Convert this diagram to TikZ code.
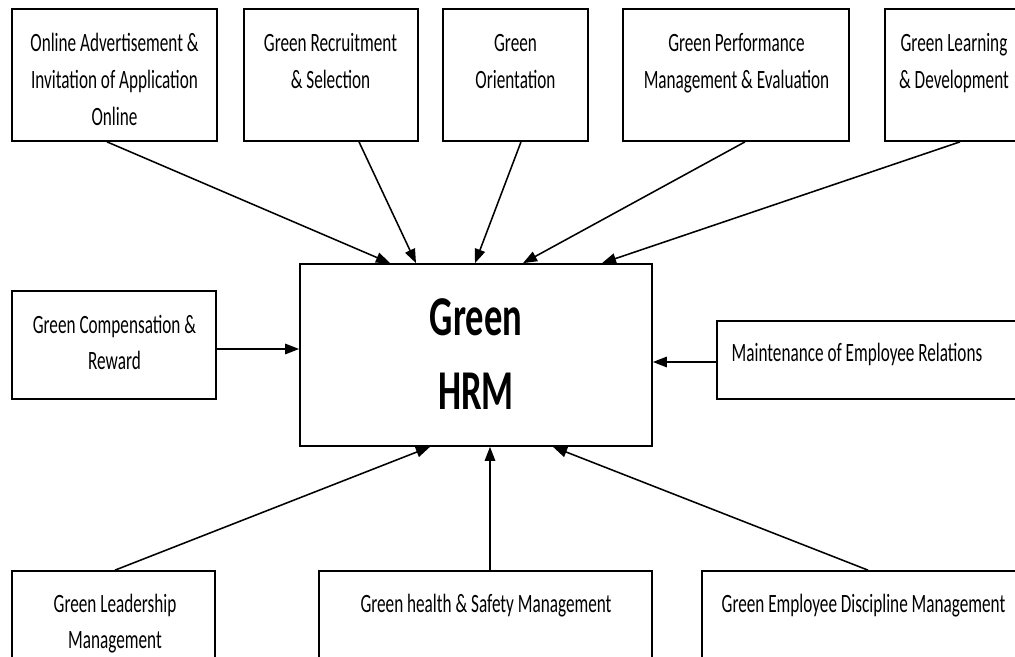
\documentclass[tikz,border=0pt]{standalone}
\usepackage{fontspec}
\setmainfont{Carlito}
\usepackage{graphicx}
\usetikzlibrary{arrows.meta}

\newcommand{\schmal}[1]{\scalebox{0.65}[1]{\begin{tabular}[t]{@{}c@{}}#1\end{tabular}}}

\begin{document}
\begin{tikzpicture}[x=0.025cm, y=-0.025cm,
  box/.style={draw, line width=1.2pt, inner sep=0pt},
  txt/.style={anchor=base, inner sep=0pt, font=\fontsize{18.8}{26.3}\selectfont},
  gross/.style={anchor=base, inner sep=0pt, font=\fontsize{40}{53}\selectfont\bfseries},
  pfeil/.style={-{Triangle[length=10pt,width=7.5pt]}, line width=1.1pt}]
  \clip (0,0) rectangle (1015,657);

  % Kaesten oben
  \node[box, minimum width=5.125cm, minimum height=3.3cm] (oad) at (114.5,75) {};
  \node[box, minimum width=4.35cm, minimum height=3.3cm] (rec) at (331,75) {};
  \node[box, minimum width=3.625cm, minimum height=3.3cm] (ori) at (515.5,75) {};
  \node[box, minimum width=5.65cm, minimum height=3.3cm] (perf) at (736,75) {};
  \node[box, minimum width=3.45cm, minimum height=3.3cm] (learn) at (954,75) {};

  % Mitte
  \node[box, minimum width=8.8cm, minimum height=4.55cm] (hrm) at (476,355) {};
  \node[box, minimum width=5.1cm, minimum height=2.7cm] (comp) at (114,345) {};
  \node[box, minimum width=7.825cm, minimum height=1.95cm] (maint) at (873.5,360) {};

  % Kaesten unten
  \node[box, minimum width=5.075cm, minimum height=3cm] (lead) at (113.5,631) {};
  \node[box, minimum width=8.325cm, minimum height=3cm] (health) at (485.5,631) {};
  \node[box, minimum width=8.075cm, minimum height=3cm] (disc) at (863.5,631) {};

  % Beschriftung
  \node[txt] at (114.5,52) {\schmal{Online Advertisement \&\\Invitation of Application\\Online}};
  \node[txt] at (330.5,52) {\schmal{Green Recruitment\\\& Selection}};
  \node[txt] at (515.5,52) {\schmal{Green\\Orientation}};
  \node[txt] at (736.5,52) {\schmal{Green Performance\\Management \& Evaluation}};
  \node[txt] at (954,52) {\schmal{Green Learning\\\& Development}};
  \node[gross] at (476,335) {\schmal{Green\\HRM}};
  \node[txt] at (114.5,333) {\schmal{Green Compensation \&\\Reward}};
  \node[txt] at (857,361) {\schmal{Maintenance of Employee Relations}};
  \node[txt] at (115,612) {\schmal{Green Leadership\\Management}};
  \node[txt] at (486,612) {\schmal{Green health \& Safety Management}};
  \node[txt] at (863.5,612) {\schmal{Green Employee Discipline Management}};

  % Pfeile
  \draw[pfeil] (oad.south -| 107,0) -- (hrm.north -| 390,0);
  \draw[pfeil] (rec.south -| 359,0) -- (hrm.north -| 416,0);
  \draw[pfeil] (ori.south -| 521,0) -- (hrm.north -| 475,0);
  \draw[pfeil] (perf.south -| 745,0) -- (hrm.north -| 523,0);
  \draw[pfeil] (learn.south -| 960,0) -- (hrm.north -| 602,0);
  \draw[pfeil] (comp.east |- 0,349) -- (hrm.west |- 0,349);
  \draw[pfeil] (maint.west |- 0,362) -- (hrm.east |- 0,362);
  \draw[pfeil] (lead.north -| 115,0) -- (hrm.south -| 430,0);
  \draw[pfeil] (health.north -| 490,0) -- (hrm.south -| 490,0);
  \draw[pfeil] (disc.north -| 868,0) -- (hrm.south -| 553,0);
\end{tikzpicture}
\end{document}
